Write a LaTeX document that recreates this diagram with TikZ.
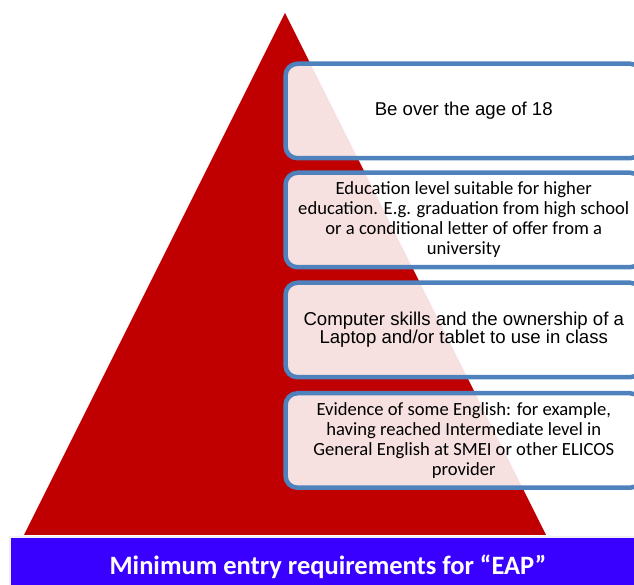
\documentclass[tikz,border=0pt]{standalone}
\usepackage{fontspec}
\setmainfont{Liberation Sans}
\newfontfamily\calib{Carlito}
\definecolor{pyrred}{RGB}{192,0,0}
\definecolor{boxblue}{RGB}{79,129,189}
\definecolor{barblue}{RGB}{58,0,255}
\tikzset{
  reqbox/.style={draw=boxblue, line width=4.5pt, rounded corners=12pt,
    fill=white, fill opacity=0.88, text opacity=1, text=black,
    minimum width=356.5pt, minimum height=94.5pt, align=center, inner sep=0pt},
  arialtext/.style={font=\fontsize{18.6}{18.3}\selectfont},
  calibtext/.style={font=\calib\fontsize{18.6}{20}\selectfont},
  titletext/.style={font=\calib\bfseries\fontsize{26.5}{30}\selectfont, text=white, inner sep=0pt}
}
\begin{document}
\begin{tikzpicture}[x=1pt,y=1pt]
\useasboundingbox (0,0) rectangle (634,585);
\clip (0,0) rectangle (634,585);
\coordinate (apex) at (285,572);
\coordinate (bl) at (24,50);
\coordinate (br) at (546,50);
\fill[pyrred] (apex) -- (bl) -- (br) -- cycle;
\node[reqbox, arialtext] (b1) at (463.75,474) {Be over the age of 18};
\node[reqbox, calibtext] (b2) at (463.75,365) {Education level suitable for higher\\education. E.g. graduation from high school\\or a conditional letter of offer from a\\university};
\node[reqbox, arialtext] (b3) at (463.75,255) {Computer skills and the ownership of a\\Laptop and/or tablet to use in class};
\node[reqbox, calibtext] (b4) at (463.75,144.5) {Evidence of some English: for example,\\having reached Intermediate level in\\General English at SMEI or other ELICOS\\provider};
\fill[barblue, draw=gray!12, line width=1.5pt] (10,-5) rectangle (650,48);
\node[titletext] (title) at (328,18) {Minimum entry requirements for “EAP”};
\end{tikzpicture}
\end{document}
